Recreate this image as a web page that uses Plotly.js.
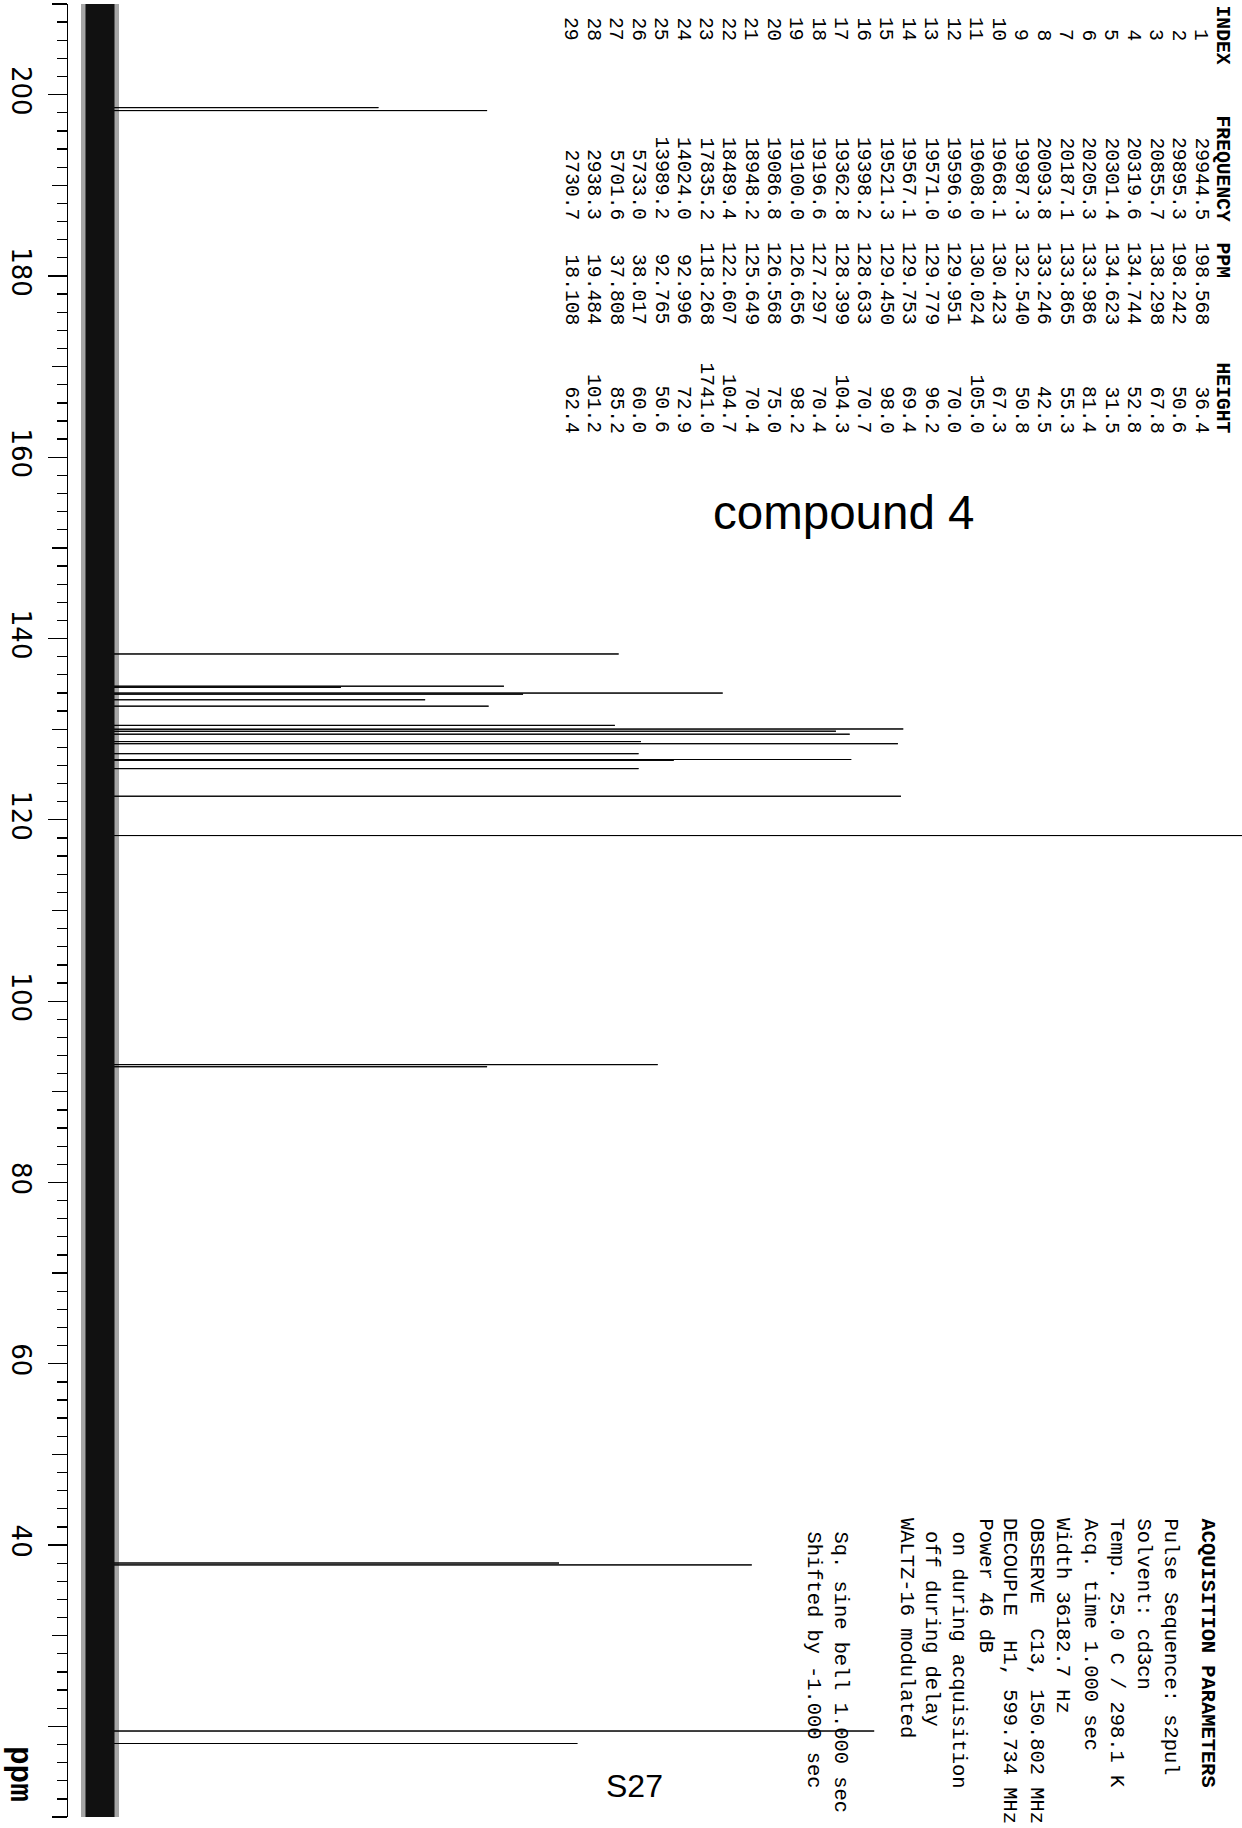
<!DOCTYPE html>
<html><head><meta charset="utf-8">
<script src="https://cdn.plot.ly/plotly-3.0.1.min.js"></script>
<style>html,body{margin:0;padding:0;background:#fff;overflow:hidden}#chart{width:1242px;height:1828px}</style>
</head><body><div id="chart"></div>
<script>
// ---------- data ----------
const peakIndex = [1,2,3,4,5,6,7,8,9,10,11,12,13,14,15,16,17,18,19,20,21,22,23,24,25,26,27,28,29];
const peakFreqHz = [29944.5,29895.3,20855.7,20319.6,20301.4,20205.3,20187.1,20093.8,19987.3,19668.1,
  19608.0,19596.9,19571.0,19567.1,19521.3,19398.2,19362.8,19196.6,19100.0,19086.8,
  18948.2,18489.4,17835.2,14024.0,13989.2,5733.0,5701.6,2938.3,2730.7];
const peakPpm = [198.568,198.242,138.298,134.744,134.623,133.986,133.865,133.246,132.540,130.423,
  130.024,129.951,129.779,129.753,129.450,128.633,128.399,127.297,126.656,126.568,
  125.649,122.607,118.268,92.996,92.765,38.017,37.808,19.484,18.108];
const peakHeight = [36.4,50.6,67.8,52.8,31.5,81.4,55.3,42.5,50.8,67.3,
  105.0,70.0,96.2,69.4,98.0,70.7,104.3,70.4,98.2,75.0,
  70.4,104.7,1741.0,72.9,50.6,60.0,85.2,101.2,62.4];
const tableHeader = ['INDEX','FREQUENCY','PPM','HEIGHT'];
const ppmRange = [10, 210];
const noiseBandPpm = [210, 10];
const noiseBandLevel = [0, 0];
const majorTickVals = [20,40,60,80,100,120,140,160,180,200];
const majorTickText = ['','40','60','80','100','120','140','160','180','200'];
const axisUnitLabel = 'ppm';
const acqTitle = 'ACQUISITION PARAMETERS';
const acqLines = ['Pulse Sequence: s2pul','Solvent: cd3cn','Temp. 25.0 C / 298.1 K','Acq. time 1.000 sec',
  'Width 36182.7 Hz','OBSERVE  C13, 150.802 MHz','DECOUPLE  H1, 599.734 MHz','Power 46 dB',
  'on during acquisition','off during delay','WALTZ-16 modulated','Sq. sine bell 1.000 sec','Shifted by -1.000 sec'];
const acqIndented = [false,false,false,false,false,false,false,false,true,true,false,true,true];
const compoundLabel = 'compound 4';
const pageLabel = 'S27';

// ---------- layout geometry (pixels) ----------
const W = 1242, H = 1828;
const M = {l: 68, r: 0, t: 4, b: 11};
const plotW = W - M.l - M.r, plotH = H - M.t - M.b;
const basePx = 100, pxPerUnit = 7.65;
const xRange = [(M.l - basePx) / pxPerUnit, (W - basePx) / pxPerUnit];
const px2x = px => (px - M.l) / plotW;
const py2y = py => (H - M.b - py) / plotH;

// ---------- spectrum stick trace ----------
const sx = [0], sy = [ppmRange[1]];
for (let i = 0; i < peakPpm.length; i++) {
  sx.push(0, peakHeight[i], 0);
  sy.push(peakPpm[i], peakPpm[i], peakPpm[i]);
}
sx.push(0); sy.push(ppmRange[0]);

const traces = [
  {x: noiseBandLevel, y: noiseBandPpm, yaxis: 'y2', mode: 'lines', hoverinfo: 'skip',
   line: {color: 'rgba(0,0,0,0.35)', width: 38}, showlegend: false},
  {x: noiseBandLevel, y: noiseBandPpm, yaxis: 'y2', mode: 'lines', hoverinfo: 'skip',
   line: {color: '#111', width: 29}, showlegend: false},
  {x: sx, y: sy, mode: 'lines', hoverinfo: 'skip',
   line: {color: '#000', width: 1}, showlegend: false}
];

// ---------- annotations ----------
const headFont = {family: 'Liberation Mono, DejaVu Sans Mono, monospace', size: 19.7, color: '#000'};
const numFont = {family: 'Liberation Mono, DejaVu Sans Mono, monospace', size: 19.7, color: '#000'};
const acqFont = {family: 'Liberation Mono, DejaVu Sans Mono, monospace', size: 20.4, color: '#000'};
const ann = [];
const rot = (text, xpx, ypx, yanchor, font) => ann.push({text: text, textangle: 90, xref: 'paper', yref: 'paper',
  x: px2x(xpx), y: py2y(ypx), xanchor: 'center', yanchor: yanchor, showarrow: false, borderpad: 0, font: font});

// table header (word starts along the rotated line)
const headerStart = [5, 115, 242, 362];
tableHeader.forEach((h, k) => rot('<b>' + h + '</b>', 1222, headerStart[k] - 1, 'top', headFont));
// table rows: right-aligned cells
const cellEnd = [42, 221, 326, 434];
for (let i = 0; i < peakIndex.length; i++) {
  const xr = 1200 - 22.5 * i;
  const cells = [String(peakIndex[i]), peakFreqHz[i].toFixed(1), peakPpm[i].toFixed(3), peakHeight[i].toFixed(1)];
  cells.forEach((c, k) => rot(c, xr, cellEnd[k], 'bottom', numFont));
}
// acquisition parameters
const acqX = [1170,1143,1117,1090,1063,1037,1010,985,958,932,907,840,813];
rot('<b>' + acqTitle.replace(/ /g, '\u00A0') + '</b>', 1207, 1517, 'top', acqFont);
acqLines.forEach((t, i) => rot(t.replace(/ /g, '\u00A0'), acqX[i], acqIndented[i] ? 1530 : 1517, 'top', acqFont));

ann.push({text: compoundLabel, xref: 'paper', yref: 'paper', x: px2x(843), y: py2y(512),
  xanchor: 'center', yanchor: 'middle', showarrow: false, borderpad: 0,
  font: {family: 'Liberation Sans, Arial, sans-serif', size: 47.5, color: '#000'}});
ann.push({text: pageLabel, xref: 'paper', yref: 'paper', x: px2x(634), y: py2y(1786),
  xanchor: 'center', yanchor: 'middle', showarrow: false, borderpad: 0,
  font: {family: 'Liberation Sans, Arial, sans-serif', size: 32, color: '#000'}});
ann.push({text: '<b>' + axisUnitLabel + '</b>', textangle: 90, xref: 'paper', yref: 'paper', x: px2x(20), y: py2y(1774),
  xanchor: 'center', yanchor: 'middle', showarrow: false, borderpad: 0,
  font: {family: 'Liberation Mono, monospace', size: 31, color: '#000'}});

const layout = {
  width: W, height: H, autosize: false,
  margin: M, paper_bgcolor: '#fff', plot_bgcolor: '#fff', showlegend: false,
  xaxis: {range: xRange, visible: false, fixedrange: true},
  yaxis: {range: ppmRange, showline: true, linecolor: '#000', linewidth: 1.5, mirror: false,
    showgrid: false, zeroline: false, ticks: 'outside', ticklen: 19, tickwidth: 1.3, tickcolor: '#000',
    tickmode: 'array', tickvals: majorTickVals, ticktext: majorTickText, tickangle: 90,
    ticklabelstandoff: 4,
    tickfont: {family: 'DejaVu Sans, sans-serif', size: 26, color: '#000'},
    minor: {dtick: 2, tick0: 0, ticks: 'outside', ticklen: 10, tickwidth: 1.3, tickcolor: '#000', showgrid: false}},
  yaxis2: {range: ppmRange, overlaying: 'y', side: 'left', anchor: 'x', showline: false, showgrid: false, zeroline: false,
    ticks: 'outside', ticklen: 15, tickwidth: 1.3, tickcolor: '#000', dtick: 10, tick0: 0, showticklabels: false},
  annotations: ann
};
Plotly.newPlot('chart', traces, layout, {staticPlot: true, displayModeBar: false});
</script></body></html>
